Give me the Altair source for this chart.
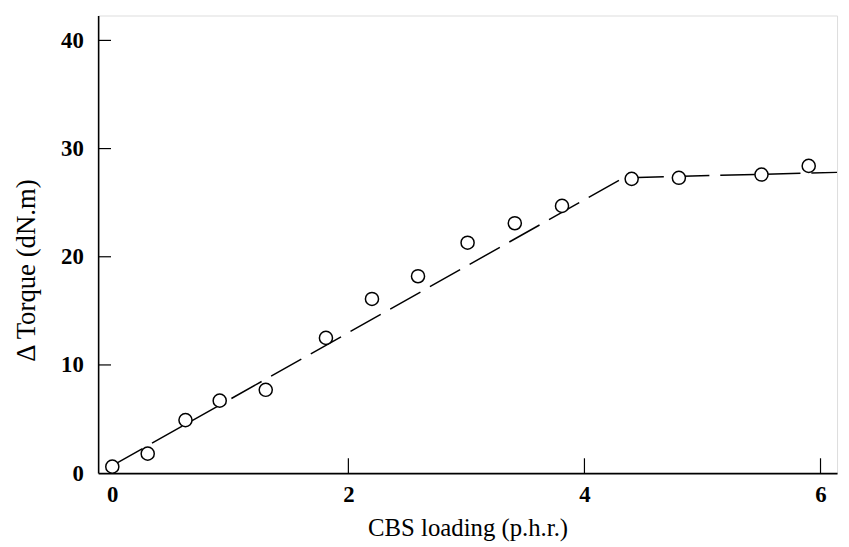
import altair as alt
import pandas as pd

# measured data points
cbs = [0, 0.3, 0.62, 0.91, 1.3, 1.81, 2.2, 2.59, 3.01, 3.41, 3.81, 4.4, 4.8, 5.5, 5.9]
torque = [0.6, 1.8, 4.9, 6.7, 7.7, 12.5, 16.1, 18.2, 21.3, 23.1, 24.7, 27.2, 27.3, 27.6, 28.4]

# dashed trend line
fit_x = [0, 4.33, 6.14]
fit_y = [0.7, 27.3, 27.8]

x_ticks = [0, 2, 4, 6]
y_ticks = [0, 10, 20, 30, 40]
x_inner_ticks = [2, 4, 6]
y_inner_ticks = [10, 20, 30, 40]

W, H = 746, 462
FONT = "Liberation Serif"

pts = pd.DataFrame({"x": cbs, "y": torque})
fit = pd.DataFrame({"x": fit_x, "y": fit_y})
xt = pd.DataFrame({"x": x_inner_ticks})
yt = pd.DataFrame({"y": y_inner_ticks})

xscale = alt.Scale(domain=[-0.12, 6.14], nice=False, zero=False)
yscale = alt.Scale(domain=[0, 42.3], nice=False)

xaxis = alt.Axis(values=x_ticks, ticks=False, grid=False, domainColor="black",
                 domainWidth=1.6, labelFont=FONT, labelFontSize=23, labelFontWeight="bold",
                 labelColor="black", labelPadding=11, title="CBS loading (p.h.r.)",
                 titleFont=FONT, titleFontSize=25, titleFontWeight="normal",
                 titleColor="black", titleBaseline="alphabetic", titleY=63, format="d")
yaxis = alt.Axis(values=y_ticks, ticks=False, grid=False, domainColor="black",
                 domainWidth=1.6, labelFont=FONT, labelFontSize=23, labelFontWeight="bold",
                 labelColor="black", labelPadding=15, title="Δ Torque (dN.m)",
                 titleFont=FONT, titleFontSize=27, titleFontWeight="normal",
                 titleColor="black", titlePadding=20, titleY=257, format="d")

line = alt.Chart(fit).mark_line(color="black", strokeWidth=1.5, strokeDash=[35, 11]).encode(
    x=alt.X("x:Q", scale=xscale, axis=xaxis),
    y=alt.Y("y:Q", scale=yscale, axis=yaxis),
)

points = alt.Chart(pts).mark_point(shape="circle", size=175, filled=False, fill="white",
                                   fillOpacity=1, stroke="black", strokeWidth=1.5, opacity=1).encode(
    x=alt.X("x:Q", scale=xscale),
    y=alt.Y("y:Q", scale=yscale),
)

xtick_rules = alt.Chart(xt).mark_rule(color="black", strokeWidth=1.2).encode(
    x=alt.X("x:Q", scale=xscale),
    y=alt.value(H),
    y2=alt.value(H - 15),
)

ytick_rules = alt.Chart(yt).mark_rule(color="black", strokeWidth=1.2).encode(
    y=alt.Y("y:Q", scale=yscale),
    x=alt.value(0),
    x2=alt.value(13),
)

chart = alt.layer(line, xtick_rules, ytick_rules, points).properties(
    width=W, height=H,
    autosize=alt.AutoSizeParams(type="none"),
    padding={"left": 91, "top": 5, "right": 4, "bottom": 72},
).configure_view(stroke=None).configure(background="white")

chart.save("out.html", embed_options={"renderer": "svg", "actions": False})
